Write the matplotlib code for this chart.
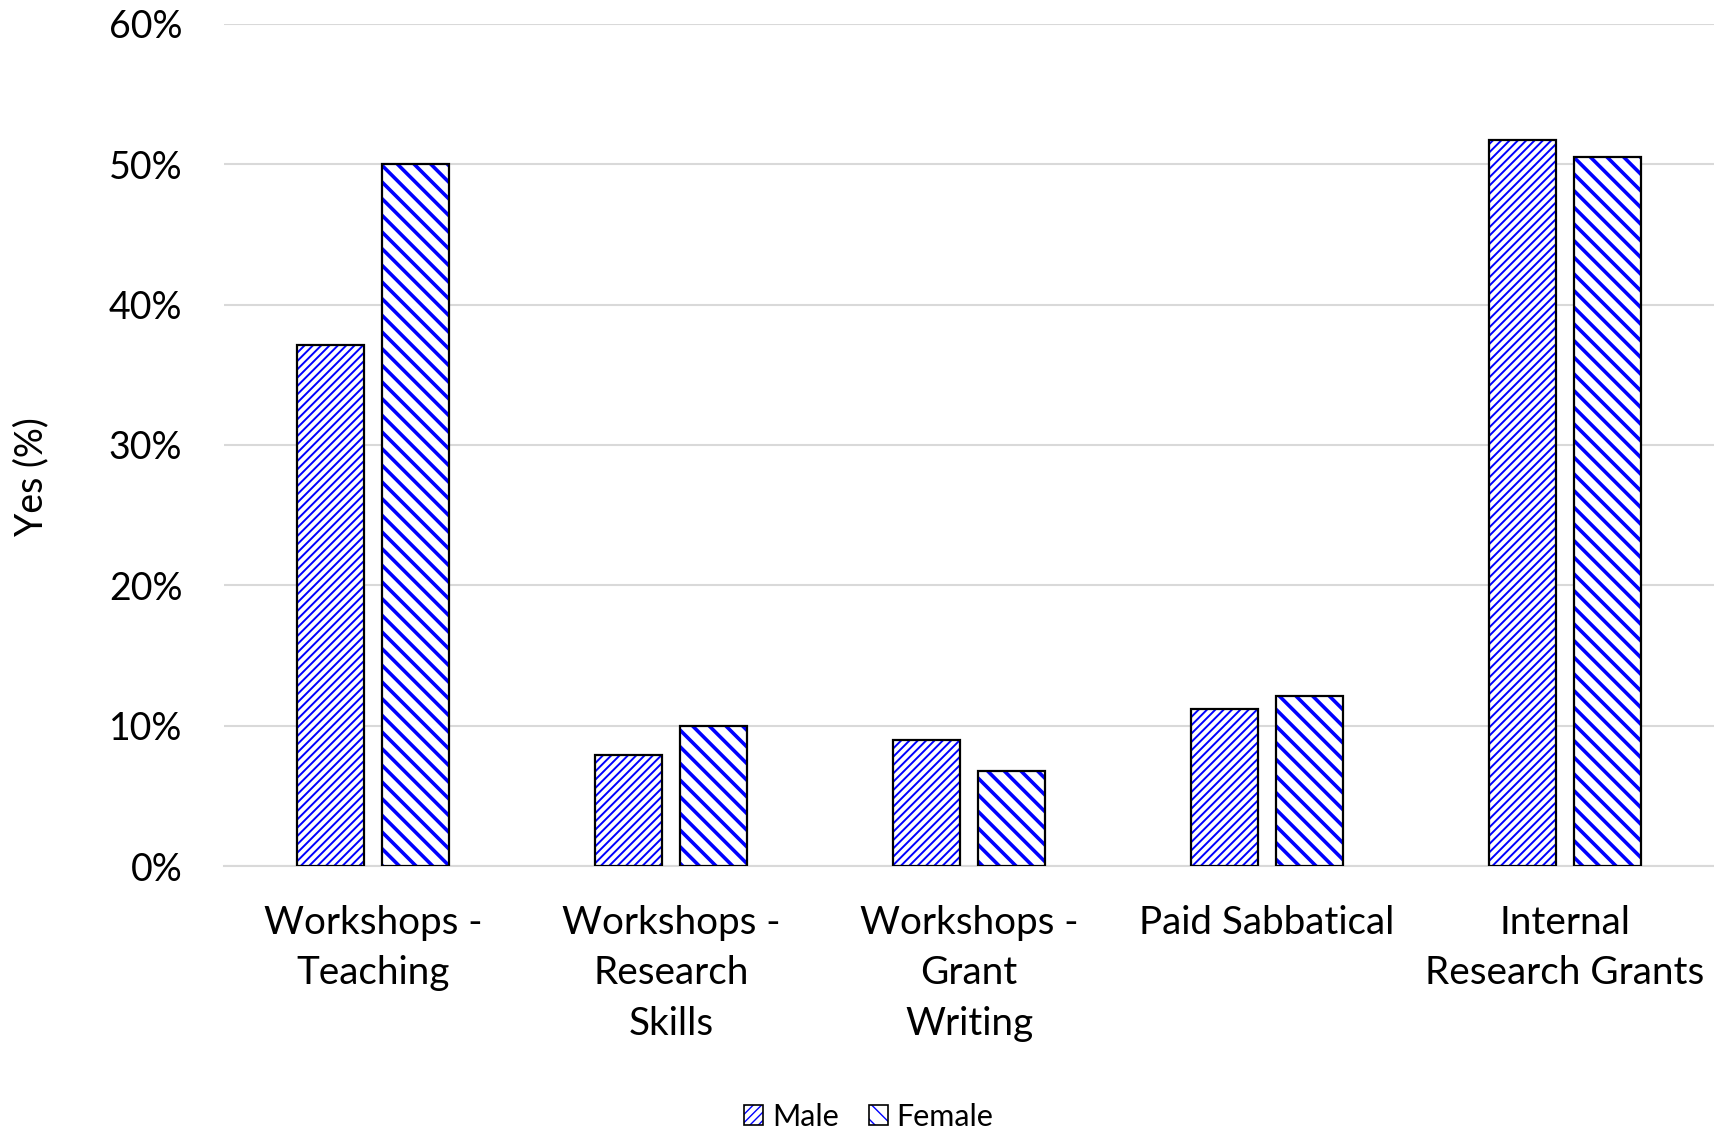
import matplotlib
matplotlib.use("Agg")
import matplotlib.pyplot as plt
import numpy as np
from matplotlib.patches import Patch
from matplotlib.ticker import FuncFormatter

categories = ["Workshops -\nTeaching", "Workshops -\nResearch\nSkills",
              "Workshops -\nGrant\nWriting", "Paid Sabbatical",
              "Internal\nResearch Grants"]
male = [37.1, 7.9, 9.0, 11.2, 51.7]
female = [50.0, 10.0, 6.8, 12.1, 50.5]
series_names = ["Male", "Female"]

plt.rcParams['font.family'] = ['Lato', 'DejaVu Sans']

fig = plt.figure(figsize=(17.14, 11.30), dpi=100)
ax = fig.add_axes([0.1307, 0.2336, 0.8693, 0.7452])

x = np.arange(len(categories))
width = 0.224
offset = 0.1415
blue = "#0000FF"
male_hatch = "////"
female_hatch = "\\\\"

with plt.rc_context({'hatch.linewidth': 1.4}):
    ax.bar(x - offset, male, width, color="white", edgecolor=blue,
           hatch=male_hatch, linewidth=0, zorder=3)
with plt.rc_context({'hatch.linewidth': 2.6}):
    ax.bar(x + offset, female, width, color="white", edgecolor=blue,
           hatch=female_hatch, linewidth=0, zorder=3)
ax.bar(x - offset, male, width, fill=False, edgecolor="black", linewidth=1.6, zorder=4)
ax.bar(x + offset, female, width, fill=False, edgecolor="black", linewidth=1.6, zorder=4)

ax.set_xlim(-0.5, len(categories) - 0.5)
ax.set_ylim(0, 60)
ax.set_yticks(np.arange(0, 61, 10))
ax.yaxis.set_major_formatter(FuncFormatter(lambda v, p: f"{v:.0f}%"))
ax.set_xticks(x)
ax.set_xticklabels(categories, linespacing=1.5)
ax.tick_params(axis='both', length=0)
ax.tick_params(axis='y', pad=30, labelsize=27)
ax.tick_params(axis='x', pad=28, labelsize=27.8)
ax.grid(axis='y', color="#d9d9d9", linewidth=1.5, zorder=0)
for s in ['left', 'right', 'top']:
    ax.spines[s].set_visible(False)
ax.spines['bottom'].set_color("#d9d9d9")
ax.spines['bottom'].set_linewidth(1.5)
ax.set_ylabel("Yes (%)", fontsize=27)
ax.yaxis.set_label_coords(-0.117, 0.4625)

with plt.rc_context({'hatch.linewidth': 1.4}):
    h_male = Patch(facecolor="white", edgecolor=blue, hatch=male_hatch, linewidth=0)
with plt.rc_context({'hatch.linewidth': 2.6}):
    h_female = Patch(facecolor="white", edgecolor=blue, hatch=female_hatch, linewidth=0)
o1 = Patch(fill=False, edgecolor="black", linewidth=1.2)
o2 = Patch(fill=False, edgecolor="black", linewidth=1.2)
fig.legend([(h_male, o1), (h_female, o2)], series_names, loc="lower center",
           bbox_to_anchor=(0.507, -0.025), ncol=2, frameon=False, fontsize=22,
           handlelength=0.6, handleheight=0.6, handletextpad=0.3, columnspacing=1.0)

fig.savefig("out.png", dpi=100)
